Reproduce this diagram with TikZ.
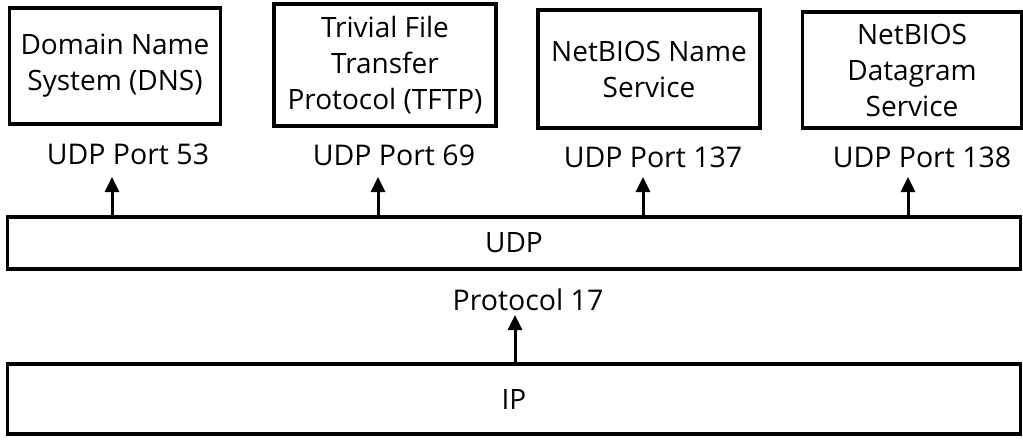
\documentclass[tikz,border=0pt]{standalone}
\usepackage{fontspec}
\setmainfont{Open Sans}
\usetikzlibrary{arrows.meta}
\begin{document}
\begin{tikzpicture}[x=1pt,y=-1pt,
  svcbox/.style={draw, line width=3.2pt, align=center, inner sep=0pt,
    font=\fontsize{28}{36}\selectfont},
  port/.style={font=\fontsize{28.5}{32}\selectfont, inner sep=0pt},
  layer/.style={draw, line width=3.2pt, inner sep=0pt,
    font=\fontsize{28}{32}\selectfont},
  uparrow/.style={line width=3pt, -{Triangle[length=15pt,width=14pt]}}
]
\useasboundingbox (0,0) rectangle (1023,440);

% upper-layer services
\node[svcbox, minimum width=211pt, minimum height=116pt] (dns)  at (115,66) {Domain Name\\System (DNS)};
\node[svcbox, minimum width=222pt, minimum height=122pt] (tftp) at (385,65) {Trivial File\\Transfer\\Protocol (TFTP)};
\node[svcbox, minimum width=222pt, minimum height=118pt] (nbns) at (649,69) {NetBIOS Name\\Service};
\node[svcbox, minimum width=219pt, minimum height=116pt] (nbds) at (912,70) {NetBIOS\\Datagram\\Service};

% port numbers
\node[port] (p53)  at (128,154) {UDP Port 53};
\node[port] (p69)  at (394,155) {UDP Port 69};
\node[port] (p137) at (653,157) {UDP Port 137};
\node[port] (p138) at (922,157) {UDP Port 138};

% transport and network layers
\node[layer, minimum width=1013pt, minimum height=52pt] (udp) at (514,243) {UDP};
\node[layer, minimum width=1013pt, minimum height=70pt] (ip)  at (514,399) {IP};
\node[port] (proto) at (528,300) {Protocol 17};

% demultiplexing arrows
\coordinate (a53)  at (112,177);
\coordinate (a69)  at (378,177);
\coordinate (a137) at (643,177);
\coordinate (a138) at (908,177);
\coordinate (a17)  at (515,315);
\foreach \c in {a53,a69,a137,a138}
  \draw[uparrow] (udp.north -| \c) -- (\c);
\draw[uparrow] (ip.north -| a17) -- (a17);
\end{tikzpicture}
\end{document}
